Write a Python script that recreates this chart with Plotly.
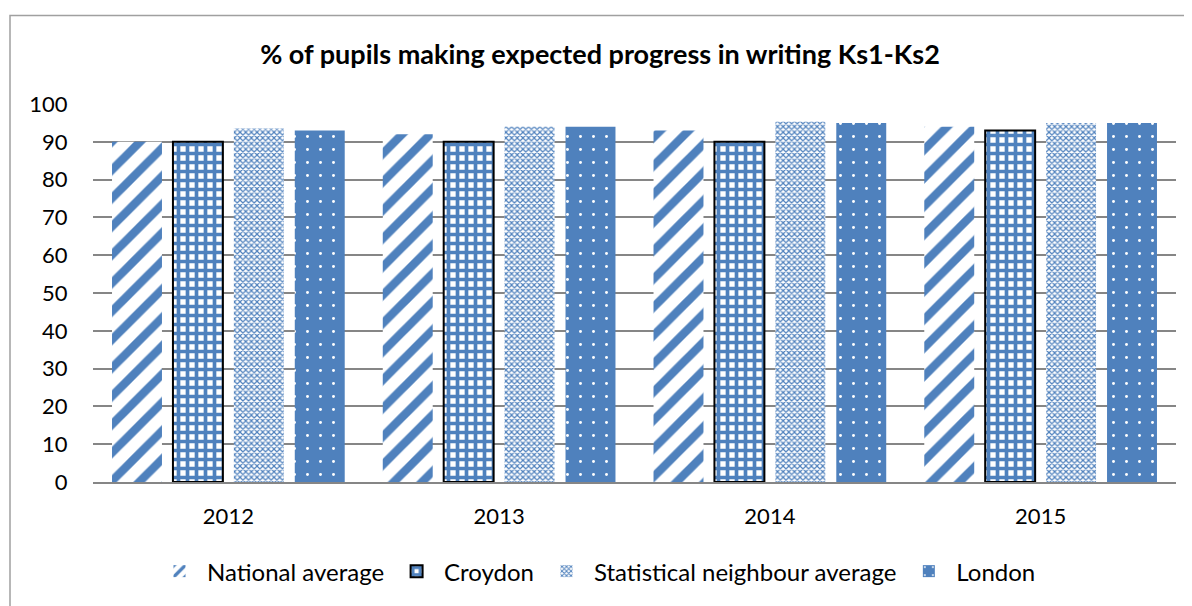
import plotly.graph_objects as go

years = ["2012", "2013", "2014", "2015"]
national = [90, 92, 93, 94]
croydon = [90, 90, 90, 93]
stat_neighbour = [93.5, 94, 95.3, 95]
london = [93, 94, 95, 95]
y_ticks = [0, 10, 20, 30, 40, 50, 60, 70, 80, 90, 100]

BLUE = "#4F81BD"
FONT = "Lato"
W, H = 1184, 598
L, T, R, B = 85, 96, 16, 122
PW = W - L - R
PH = H - T - B

fig = go.Figure()
fig.add_bar(name="National average", x=years, y=national,
            marker=dict(color="white", line=dict(width=0),
                        pattern=dict(shape="/", fgcolor=BLUE, bgcolor="white",
                                     size=20, solidity=0.42, fillmode="replace")))
fig.add_bar(name="Croydon", x=years, y=croydon,
            marker=dict(color="white", line=dict(color="black", width=2),
                        pattern=dict(shape="+", fgcolor=BLUE, bgcolor="white",
                                     size=9, solidity=0.65, fillmode="replace")))
fig.add_bar(name="Statistical neighbour average", x=years, y=stat_neighbour,
            marker=dict(color="white", line=dict(width=0),
                        pattern=dict(shape="x", fgcolor=BLUE, bgcolor="white",
                                     size=4, solidity=0.5, fillmode="replace")))
fig.add_bar(name="London", x=years, y=london,
            marker=dict(color=BLUE, line=dict(width=0),
                        pattern=dict(shape=".", fgcolor="white", bgcolor=BLUE,
                                     size=13, solidity=0.04, fillmode="replace")))

fig.update_layout(
    width=W, height=H,
    margin=dict(l=L, r=R, t=T, b=B),
    paper_bgcolor="white", plot_bgcolor="white",
    font=dict(family=FONT, size=22, color="black"),
    barmode="group", bargap=0.10, bargroupgap=0.18,
    title=dict(text="<b>% of pupils making expected progress in writing Ks1-Ks2</b>",
               x=0.5, xanchor="center", y=1 - 47 / H, yanchor="middle",
               font=dict(family=FONT, size=27, color="black")),
    legend=dict(orientation="h", x=0.5 - 38 / PW, xanchor="center",
                y=(PH - (566 - T)) / PH, yanchor="middle",
                font=dict(family=FONT, size=24), itemwidth=45,
                traceorder="normal"),
    shapes=[dict(type="rect", xref="paper", yref="paper",
                 x0=(2 - L) / PW, x1=(W + 20 - L) / PW,
                 y0=(T + PH - (H + 20)) / PH, y1=(T + PH - 7) / PH,
                 line=dict(color="#A0A0A0", width=1.5), fillcolor="rgba(0,0,0,0)",
                 layer="below")],
)
fig.update_yaxes(range=[0, 100], tickvals=y_ticks, showgrid=True,
                 gridcolor="#868686", gridwidth=1.5, zeroline=False,
                 showline=False, ticks="outside", ticklen=20,
                 tickcolor="rgba(0,0,0,0)",
                 tickfont=dict(family=FONT, size=22))
fig.update_xaxes(showline=True, linecolor="#868686", linewidth=1.5,
                 ticks="outside", ticklen=14, tickcolor="rgba(0,0,0,0)",
                 tickfont=dict(family=FONT, size=22))

fig.write_html("out.html")
